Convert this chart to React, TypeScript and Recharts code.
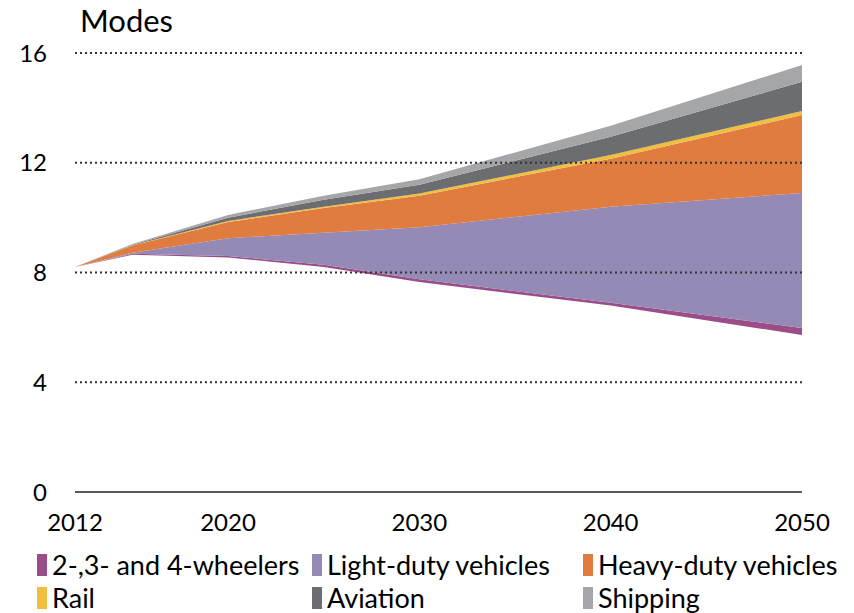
import React from "react";
import { AreaChart, Area, XAxis, YAxis, ReferenceLine } from "recharts";

const years = [2012, 2015, 2020, 2025, 2030, 2040, 2050];
const baseline = [8.2, 8.65, 8.55, 8.2, 7.65, 6.8, 5.72];
const wheelers = [0, 0.03, 0.05, 0.08, 0.1, 0.1, 0.26];
const lightDuty = [0, 0.04, 0.65, 1.17, 1.9, 3.5, 4.92];
const heavyDuty = [0, 0.26, 0.59, 0.9, 1.15, 1.75, 2.84];
const rail = [0, 0.01, 0.04, 0.05, 0.08, 0.13, 0.15];
const aviation = [0, 0.02, 0.12, 0.25, 0.32, 0.67, 1.06];
const shipping = [0, 0.03, 0.1, 0.15, 0.2, 0.4, 0.61];

const xTicks = [2012, 2020, 2030, 2040, 2050];
const yTicks = [0, 4, 8, 12, 16];
const gridLines = [4, 8, 12, 16];

const series = [
  { key: "wheelers", name: "2-,3- and 4-wheelers", color: "#9a4d88" },
  { key: "lightDuty", name: "Light-duty vehicles", color: "#9589b6" },
  { key: "heavyDuty", name: "Heavy-duty vehicles", color: "#e07c40" },
  { key: "rail", name: "Rail", color: "#f0bf3f" },
  { key: "aviation", name: "Aviation", color: "#6b6d70" },
  { key: "shipping", name: "Shipping", color: "#a4a6a9" },
];

const data = years.map((year, i) => ({
  year,
  baseline: baseline[i],
  wheelers: wheelers[i],
  lightDuty: lightDuty[i],
  heavyDuty: heavyDuty[i],
  rail: rail[i],
  aviation: aviation[i],
  shipping: shipping[i],
}));

const FONT = "Lato, 'Open Sans', sans-serif";
const legendCols = [37, 312, 583];

export default function App() {
  return (
    <div
      style={{
        position: "absolute",
        left: 0,
        top: 0,
        width: 854,
        height: 613,
        background: "#fff",
        fontFamily: FONT,
        color: "#000",
      }}
    >
      <div style={{ position: "absolute", left: 80, top: 1, fontSize: 31 }}>Modes</div>
      <AreaChart
        width={854}
        height={613}
        data={data}
        margin={{ top: 53, right: 52, left: 0, bottom: 81 }}
      >
        {gridLines.map((v) => (
          <ReferenceLine key={v} y={v} stroke="#333" strokeWidth={2} strokeDasharray="2 3" />
        ))}
        <XAxis
          dataKey="year"
          type="number"
          domain={[2012, 2050]}
          ticks={xTicks}
          tickLine={false}
          axisLine={{ stroke: "#222", strokeWidth: 1.5 }}
          tickMargin={16}
          height={40}
          tick={{ fontSize: 24, fill: "#000", fontFamily: FONT }}
        />
        <YAxis
          type="number"
          domain={[0, 16]}
          ticks={yTicks}
          width={75}
          tickLine={false}
          axisLine={false}
          tickMargin={22}
          tick={{ fontSize: 24, fill: "#000", fontFamily: FONT }}
        />
        <Area
          type="linear"
          dataKey="baseline"
          stackId="a"
          stroke="none"
          fill="none"
          isAnimationActive={false}
        />
        {series.map((s) => (
          <Area
            key={s.key}
            type="linear"
            dataKey={s.key}
            name={s.name}
            stackId="a"
            stroke="none"
            fill={s.color}
            fillOpacity={1}
            isAnimationActive={false}
          />
        ))}
      </AreaChart>
      {series.map((s, i) => {
        const col = i % 3;
        const row = Math.floor(i / 3);
        return (
          <div
            key={s.key}
            style={{
              position: "absolute",
              left: legendCols[col],
              top: 550 + row * 33,
              display: "flex",
              alignItems: "center",
              fontSize: 27,
              whiteSpace: "nowrap",
              lineHeight: "30px",
            }}
          >
            <span
              style={{
                display: "inline-block",
                width: 10,
                height: 22,
                background: s.color,
                marginRight: 5,
              }}
            />
            {s.name}
          </div>
        );
      })}
    </div>
  );
}
